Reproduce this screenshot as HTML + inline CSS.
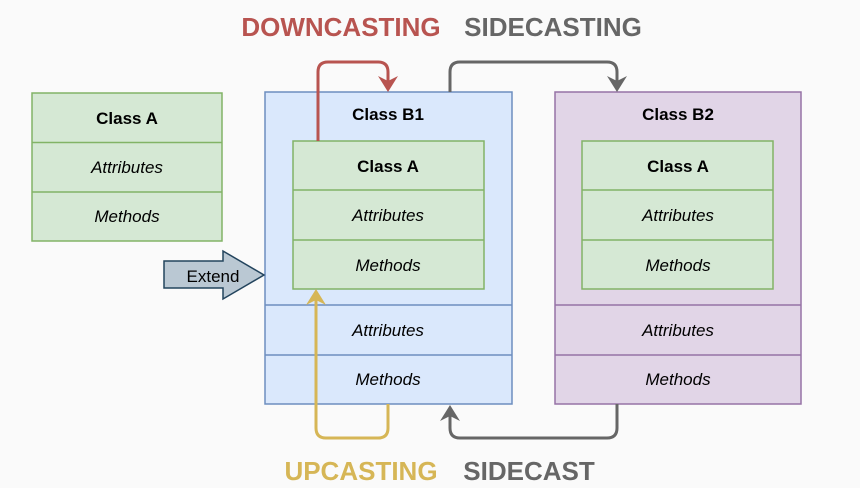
<!DOCTYPE html>
<html><head><meta charset="utf-8"><style>
html,body{margin:0;padding:0;background:#fafafa;}
svg{display:block;}
text{font-family:"Liberation Sans",Arial,sans-serif;}
.t{font-size:17px;font-weight:bold;fill:#000;text-anchor:middle;}
.i{font-size:17px;font-style:italic;fill:#000;text-anchor:middle;}
.h{font-size:26px;font-weight:bold;text-anchor:middle;}
</style></head><body>
<svg width="860" height="488" viewBox="0 0 860 488" xmlns="http://www.w3.org/2000/svg">
<rect width="860" height="488" fill="#fafafa"/>
<g stroke="#82b366" stroke-width="1.5" fill="#d5e8d4">
<rect x="32" y="93" width="190" height="148"/>
<line x1="32" y1="142.5" x2="222" y2="142.5"/>
<line x1="32" y1="192" x2="222" y2="192"/>
</g>
<text class="t" x="127" y="124">Class A</text>
<text class="i" x="127" y="173">Attributes</text>
<text class="i" x="127" y="222">Methods</text>

<g stroke="#6c8ebf" stroke-width="1.5" fill="#dae8fc">
<rect x="265" y="92" width="247" height="312"/>
<line x1="265" y1="305" x2="512" y2="305"/>
<line x1="265" y1="355" x2="512" y2="355"/>
</g>
<text class="t" x="388" y="120">Class B1</text>
<g stroke="#82b366" stroke-width="1.5" fill="#d5e8d4">
<rect x="293" y="141" width="191" height="148"/>
<line x1="293" y1="190" x2="484" y2="190"/>
<line x1="293" y1="240" x2="484" y2="240"/>
</g>
<text class="t" x="388" y="172">Class A</text>
<text class="i" x="388" y="221">Attributes</text>
<text class="i" x="388" y="271">Methods</text>
<text class="i" x="388" y="336">Attributes</text>
<text class="i" x="388" y="385">Methods</text>

<g stroke="#9673a6" stroke-width="1.5" fill="#e1d5e7">
<rect x="555" y="92" width="246" height="312"/>
<line x1="555" y1="305" x2="801" y2="305"/>
<line x1="555" y1="355" x2="801" y2="355"/>
</g>
<text class="t" x="678" y="120">Class B2</text>
<g stroke="#82b366" stroke-width="1.5" fill="#d5e8d4">
<rect x="582" y="141" width="191" height="148"/>
<line x1="582" y1="190" x2="773" y2="190"/>
<line x1="582" y1="240" x2="773" y2="240"/>
</g>
<text class="t" x="678" y="172">Class A</text>
<text class="i" x="678" y="221">Attributes</text>
<text class="i" x="678" y="271">Methods</text>
<text class="i" x="678" y="336">Attributes</text>
<text class="i" x="678" y="385">Methods</text>

<polygon points="164,261 223,261 223,251 264,275 223,299 223,288 164,288" fill="#bac8d3" stroke="#23445d" stroke-width="1.5"/>
<text x="213" y="282" font-size="17" text-anchor="middle" fill="#000" style="font-family:'Liberation Sans',sans-serif">Extend</text>

<g fill="none" stroke-width="3">
<path d="M318,141 V72 Q318,62 328,62 H378 Q388,62 388,72 V84" stroke="#b85450"/>
<path d="M450,92 V72 Q450,62 460,62 H607 Q617,62 617,72 V84" stroke="#666"/>
<path d="M388,404 V428 Q388,438 378,438 H326 Q316,438 316,428 V300" stroke="#d6b656"/>
<path d="M617,404 V428 Q617,438 607,438 H460 Q450,438 450,428 V416" stroke="#666"/>
</g>
<polygon points="378,76 388,81 398,76 388,92" fill="#b85450"/>
<polygon points="607,76 617,81 627,76 617,92" fill="#666"/>
<polygon points="306,305 316,300 326,305 316,289" fill="#d6b656"/>
<polygon points="440,421 450,416 460,421 450,405" fill="#666"/>

<text class="h" x="341" y="36" fill="#b85450">DOWNCASTING</text>
<text class="h" x="553" y="36" fill="#666">SIDECASTING</text>
<text class="h" x="361" y="480" fill="#d6b656">UPCASTING</text>
<text class="h" x="529" y="480" fill="#666">SIDECAST</text>
</svg>
</body></html>
